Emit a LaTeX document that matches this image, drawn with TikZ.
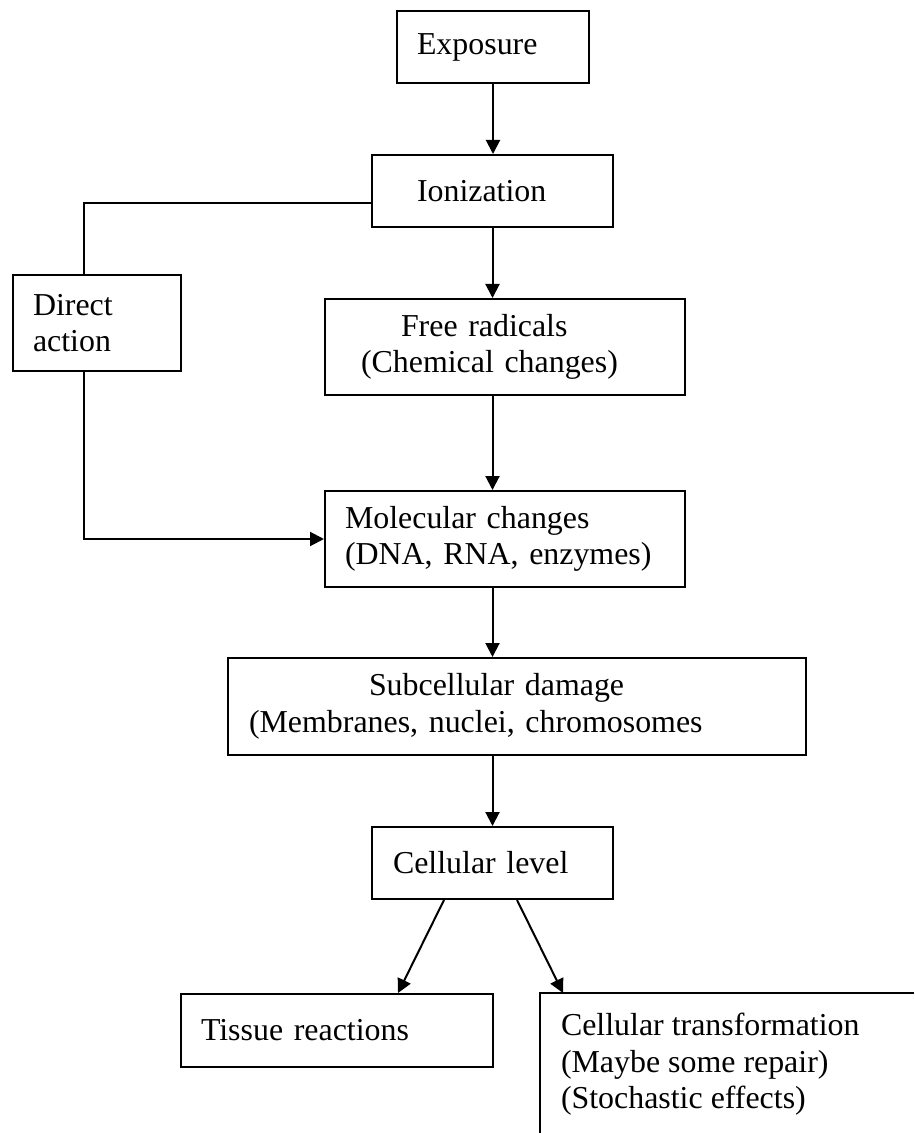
\documentclass[tikz,border=0pt]{standalone}
\usepackage{fontspec}
\setmainfont{Liberation Serif}
\usetikzlibrary{arrows.meta}
\begin{document}
\begin{tikzpicture}[x=0.5pt, y=-0.5pt, line width=1pt, >={Triangle[length=7pt,width=7pt]},
	font=\fontsize{15.95}{18.35}\selectfont,
	box/.style={draw, anchor=north west, align=left, inner ysep=0pt}]
	\useasboundingbox (0,0) rectangle (914,1133);
	% boxes
	\node[box, minimum width=96pt, minimum height=36pt, inner xsep=10pt, text width=76pt] (expo) at (396,10) {Exposure};
	\node[box, minimum width=120.5pt, minimum height=36pt, inner xsep=22.5pt, text width=75.5pt] (ioni) at (371,154) {Ionization};
	\node[box, minimum width=84pt, minimum height=48pt, inner xsep=10pt, text width=64pt] (direct) at (12,274) {Direct\\action};
	\node[box, minimum width=180pt, minimum height=48pt, inner xsep=18pt, text width=144pt] (radic) at (324,298) {\hspace*{20pt}Free radicals\\(Chemical changes)};
	\node[box, minimum width=180pt, minimum height=48pt, inner xsep=10pt, text width=160pt] (molec) at (324,490) {Molecular changes\\(DNA, RNA, enzymes)};
	\node[box, minimum width=289pt, minimum height=48.5pt, inner xsep=10.5pt, text width=268pt] (subcel) at (227,657) {\hspace*{60pt}Subcellular damage\\(Membranes, nuclei, chromosomes};
	\node[box, minimum width=120.5pt, minimum height=36pt, inner xsep=10.5pt, text width=99.5pt] (cellul) at (371,826) {Cellular level};
	\node[box, minimum width=156pt, minimum height=36.5pt, inner xsep=10pt, text width=136pt] (tissue) at (180,993) {Tissue reactions};
	\node[anchor=north west, align=left, inner sep=0pt] (transf) at (560,1012) {Cellular transformation\\(Maybe some repair)\\(Stochastic effects)};
	\draw (914,993) -- (540,993) -- (540,1133);
	\coordinate (transftop) at (563,993);
	% arrows
	\draw[->] (expo.south) -- (expo.south |- ioni.north);
	\draw[->] (ioni.south) -- (ioni.south |- radic.north);
	\draw[->] (ioni.south |- radic.south) -- (ioni.south |- molec.north);
	\draw[->] (ioni.south |- molec.south) -- (ioni.south |- subcel.north);
	\draw[->] (ioni.south |- subcel.south) -- (cellul.north);
	\draw ([yshift=-6pt]ioni.west) -| ([xshift=-6.5pt]direct.north);
	\draw[->] ([xshift=-6.5pt]direct.south) |- (molec.west);
	\draw[->] ([xshift=-24.25pt]cellul.south) -- ([xshift=30.5pt]tissue.north);
	\draw[->] ([xshift=12.25pt]cellul.south) -- (transftop);
\end{tikzpicture}
\end{document}
